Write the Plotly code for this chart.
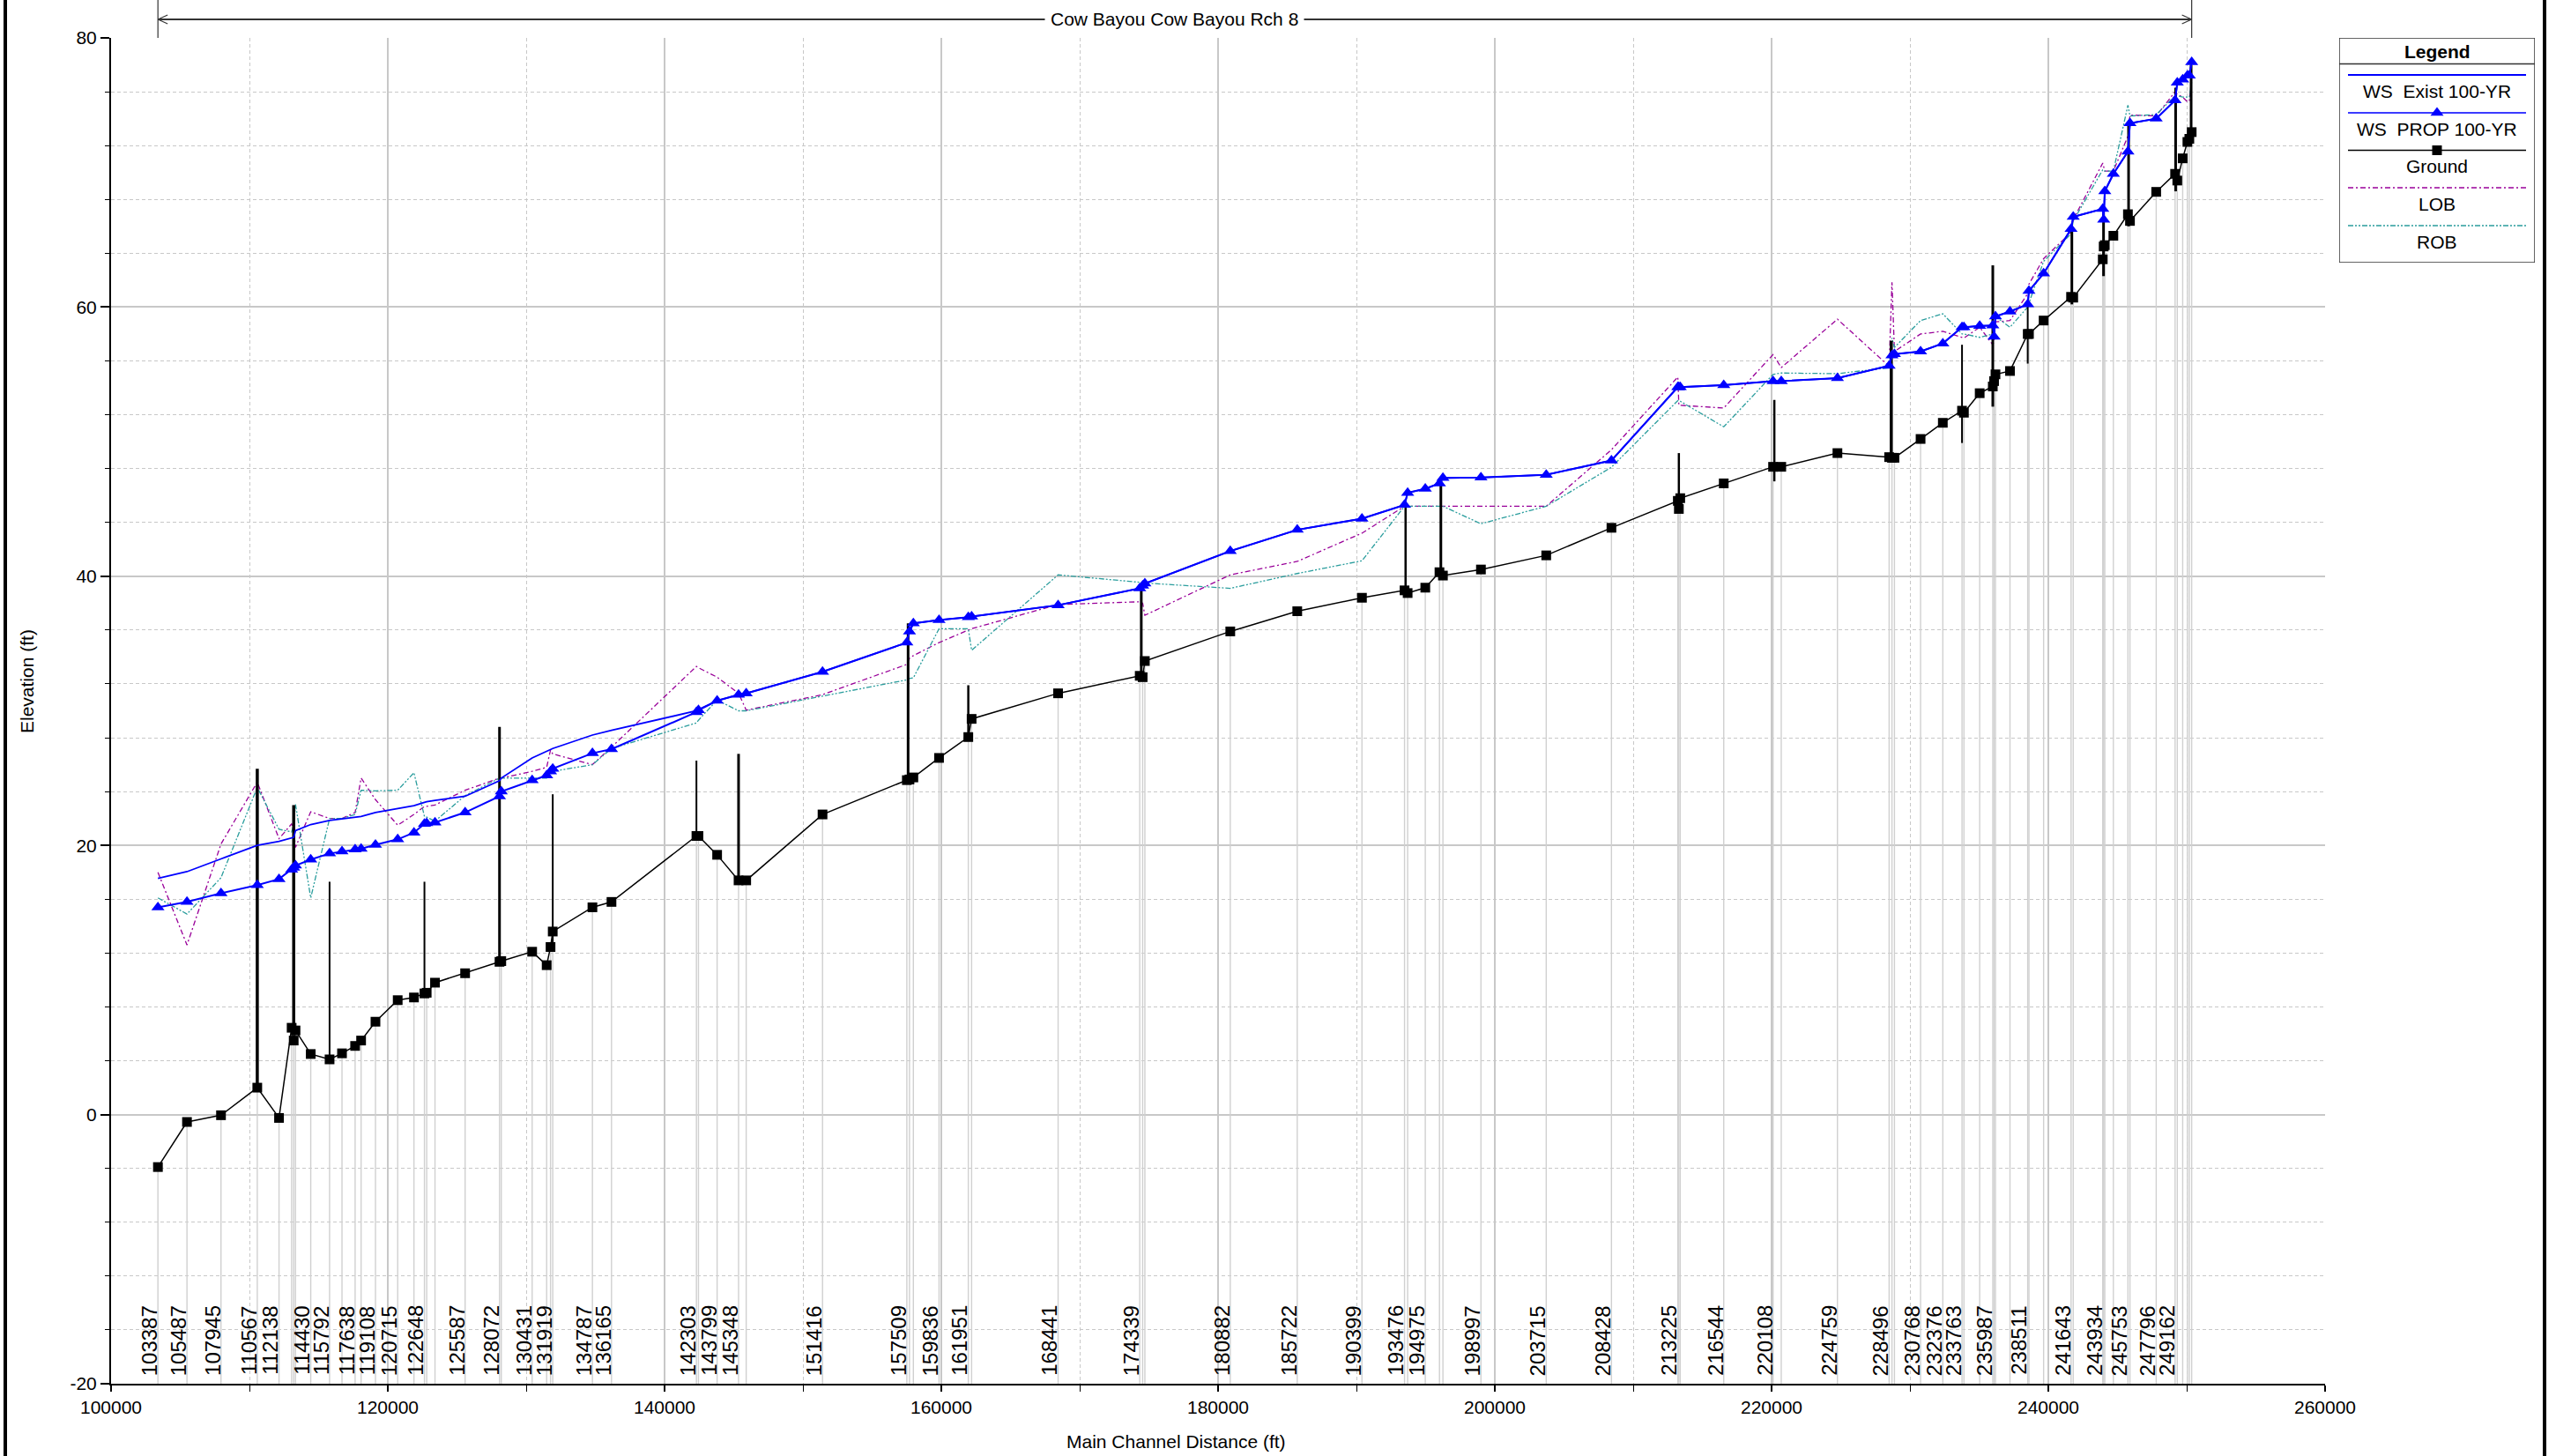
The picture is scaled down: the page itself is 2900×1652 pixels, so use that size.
import plotly.graph_objects as go

# ---------------- data ----------------
stations = [103387, 105487, 107945, 110567, 112138, 113050, 113200, 113330, 114430, 115792,
            116690, 117638, 118070, 119108, 120715, 121890, 122648, 122810, 123410, 125587,
            128072, 128200, 130431, 131480, 131760, 131919, 134787, 136165, 142303, 142450,
            143799, 145348, 145900, 151416, 157509, 157700, 157980, 159836, 161951, 162190,
            168441, 174339, 174550, 174710, 180882, 185722, 190399, 193476, 193700, 194975,
            196000, 196250, 198997, 203715, 208428, 213225, 213300, 213400, 216544, 220108,
            220700, 224759, 228496, 228700, 228880, 230768, 232376, 233763, 233900, 235040,
            235987, 236080, 236180, 237230, 238511, 238600, 239660, 241643, 241800, 243934,
            244000, 244080, 244700, 245753, 245900, 247796, 249162, 249320, 249710, 250050,
            250190, 250360]
ground = [-3.9, -0.55, -0.05, 2.0, -0.25, 6.45, 5.5, 6.25, 4.5, 4.1,
          4.55, 5.1, 5.5, 6.9, 8.5, 8.7, 9.0, 9.05, 9.8, 10.5,
          11.35, 11.4, 12.1, 11.1, 12.45, 13.6, 15.4, 15.8, 20.7, 20.7,
          19.3, 17.4, 17.4, 22.3, 24.85, 24.9, 25.05, 26.5, 28.05, 29.4,
          31.3, 32.6, 32.5, 33.7, 35.9, 37.4, 38.4, 38.95, 38.75, 39.15,
          40.3, 40.05, 40.5, 41.55, 43.6, 45.6, 45.0, 45.8, 46.9, 48.13,
          48.13, 49.15, 48.85, 48.8, 48.8, 50.2, 51.4, 52.3, 52.15, 53.6,
          54.1, 54.5, 55.0, 55.25, 58.0, 58.0, 59.0, 60.76, 60.7, 63.55,
          64.5, 64.6, 65.3, 66.9, 66.4, 68.56, 69.9, 69.4, 71.05, 72.27,
          72.5, 73.0]
ws_exist = [17.55, 18.05, 19.0, 20.0, 20.3, 20.55, 20.6, 21.1, 21.55, 21.85,
            21.95, 22.1, 22.15, 22.45, 22.75, 22.95, 23.2, 23.25, 23.35, 23.65,
            24.8, 25.0, 26.5, 27.0, 27.1, 27.2, 28.2, 28.55, 30.0, 30.1,
            30.75, 31.2, 31.3, 32.9, 35.07, 35.9, 36.5, 36.75, 36.95, 37.0,
            37.85, 39.1, 39.3, 39.46, 41.87, 43.45, 44.28, 45.3, 46.2, 46.5,
            46.9, 47.3, 47.33, 47.54, 48.6, 54.05, 54.05, 54.05, 54.2, 54.5,
            54.5, 54.72, 55.64, 56.4, 56.5, 56.7, 57.3, 58.5, 58.5, 58.6,
            58.63, 57.8, 59.3, 59.67, 60.2, 61.2, 62.5, 65.8, 66.7, 67.3,
            66.5, 68.6, 69.9, 71.55, 73.66, 74.0, 75.36, 76.67, 76.9, 77.2,
            77.2, 78.2]
ws_prop = [15.4, 15.8, 16.45, 17.05, 17.5, 18.2, 18.35, 18.5, 18.95, 19.4,
           19.55, 19.7, 19.75, 20.05, 20.45, 20.95, 21.6, 21.65, 21.7, 22.45,
           23.65, 24.0, 24.85, 25.2, 25.5, 25.7, 26.85, 27.15, 29.9, 30.05,
           30.75, 31.2, 31.3, 32.9, 35.07, 35.9, 36.5, 36.75, 36.95, 37.0,
           37.85, 39.1, 39.3, 39.46, 41.87, 43.45, 44.28, 45.3, 46.2, 46.5,
           46.9, 47.3, 47.33, 47.54, 48.6, 54.05, 54.05, 54.05, 54.2, 54.5,
           54.5, 54.72, 55.64, 56.4, 56.5, 56.7, 57.3, 58.5, 58.5, 58.6,
           58.63, 57.8, 59.3, 59.67, 60.2, 61.2, 62.5, 65.8, 66.7, 67.3,
           66.5, 68.6, 69.9, 71.55, 73.66, 74.0, 75.36, 76.67, 76.9, 77.2,
           77.2, 78.2]
lob = [18.0, 12.6, 20.1, 24.7, 20.5, 21.6, 21.2, 19.85, 22.5, 22.0,
       22.0, 22.45, 25.0, 23.4, 21.5, 22.3, 22.9, 22.9, 23.0, 24.1,
       25.0, 25.0, 25.5, 25.8, 27.1, 26.8, 26.0, 27.3, 33.3, 33.2,
       32.5, 31.3, 30.05, 31.2, 33.45, 33.9, 34.1, 35.07, 36.0, 36.1,
       37.9, 38.1, 38.0, 37.1, 40.1, 41.1, 43.2, 45.2, 45.2, 45.2,
       45.2, 45.2, 45.2, 45.2, 49.4, 54.8, 52.7, 52.7, 52.5, 56.47,
       55.5, 59.1, 55.6, 61.85, 56.7, 58.0, 58.2, 57.7, 57.7, 58.5,
       57.2, 57.5, 58.9, 59.0, 61.0, 61.7, 63.6, 65.55, 66.5, 70.7,
       70.3, 70.1, 70.1, 72.7, 74.27, 74.2, 76.0, 75.8, 75.6, 75.25,
       75.3, 77.0]
rob = [16.1, 14.9, 17.6, 24.3, 21.2, 21.0, 21.5, 23.05, 16.1, 22.0,
       22.0, 22.3, 24.1, 24.05, 24.1, 25.4, 22.15, 22.1, 21.8, 23.7,
       25.0, 25.0, 25.0, 25.0, 25.3, 25.5, 26.0, 27.2, 29.1, 29.3,
       30.8, 30.0, 30.0, 31.1, 32.3, 32.4, 32.45, 36.1, 36.1, 34.5,
       40.1, 39.55, 39.5, 39.5, 39.1, 40.2, 41.15, 45.2, 45.2, 45.2,
       45.2, 45.2, 43.9, 45.2, 48.1, 53.05, 53.0, 53.0, 51.1, 55.0,
       55.1, 55.05, 55.5, 57.7, 57.0, 59.0, 59.5, 58.0, 58.0, 57.75,
       58.0, 58.0, 59.3, 58.5, 60.0, 60.3, 63.4, 65.45, 66.4, 70.2,
       70.2, 70.1, 70.1, 75.0, 74.2, 74.3, 75.7, 75.7, 75.6, 75.6,
       75.6, 76.7]

# structures (bridges / culverts) drawn as vertical black bars
struct_stations = [110567, 113200, 115792, 122648, 128072, 131919, 142303, 145348, 157600,
                   161951, 174450, 193550, 196100, 213300, 220200, 228650, 233763, 235987,
                   238511, 241700, 243990, 245800, 249200, 250320]
struct_bottom = [2.0, 6.2, 4.1, 9.0, 11.4, 12.5, 20.7, 17.4, 24.9,
                 28.05, 32.6, 38.9, 40.1, 45.0, 47.05, 48.8, 49.9, 52.6,
                 55.8, 60.2, 62.3, 66.0, 68.6, 72.5]
struct_top = [25.7, 23.0, 17.3, 17.3, 28.8, 23.8, 26.3, 26.8, 36.5,
              31.9, 39.3, 45.3, 47.2, 49.15, 53.1, 57.5, 57.2, 63.1,
              60.1, 65.8, 67.0, 73.5, 76.3, 78.0]
struct_widths = [3.5, 3.5, 2, 2, 3, 2, 2, 3, 3,
                 2.5, 3, 2.5, 3, 2.5, 2.5, 3.5, 2, 3,
                 2, 3, 3, 3, 3, 3]

label_stations = [103387, 105487, 107945, 110567, 112138, 114430, 115792, 117638, 119108,
                  120715, 122648, 125587, 128072, 130431, 131919, 134787, 136165, 142303,
                  143799, 145348, 151416, 157509, 159836, 161951, 168441, 174339, 180882,
                  185722, 190399, 193476, 194975, 198997, 203715, 208428, 213225, 216544,
                  220108, 224759, 228496, 230768, 232376, 233763, 235987, 238511, 241643,
                  243934, 245753, 247796, 249162]

x_ticks = [100000, 120000, 140000, 160000, 180000, 200000, 220000, 240000, 260000]
x_ticktext = [str(v) for v in x_ticks]
y_ticks = [-20, 0, 20, 40, 60, 80]
y_ticktext = [str(v) for v in y_ticks]

reach_title = "Cow Bayou Cow Bayou Rch 8"
x_title = "Main Channel Distance (ft)"
y_title = "Elevation (ft)"
legend_title = "Legend"
legend_names = ["WS\u00a0 Exist 100-YR", "WS\u00a0 PROP 100-YR", "Ground", "LOB", "ROB"]

# ---------------- styling ----------------
FONT = "Liberation Sans, Arial, sans-serif"
W, H = 2900, 1652
ML, MR, MT, MB = 126, 14, 43, 82
PW = W - ML - MR            # 2760
PH = H - MT - MB            # 1527
X_DOM = (2638 - ML) / PW
BLUE = "#0000ff"
LOB_C = "#990099"
ROB_C = "#2a9d9d"
GRID = "#c8c8c8"

fig = go.Figure()

# cross-section station lines
xs, ys = [], []
for s, g in zip(stations, ground):
    xs += [s, s, None]
    ys += [-20, g, None]
fig.add_trace(go.Scatter(x=xs, y=ys, mode="lines", line=dict(color="#d0d0d0", width=1.4),
                         hoverinfo="skip", showlegend=False))

fig.add_trace(go.Scatter(x=stations, y=lob, mode="lines",
                         line=dict(color=LOB_C, width=1.3, dash="6px,3px,2px,3px"),
                         showlegend=False))
fig.add_trace(go.Scatter(x=stations, y=rob, mode="lines",
                         line=dict(color=ROB_C, width=1.3, dash="6px,2px,2px,2px,2px,2px"),
                         showlegend=False))

# structures
for s, b, t, w in zip(struct_stations, struct_bottom, struct_top, struct_widths):
    fig.add_trace(go.Scatter(x=[s, s], y=[b, t], mode="lines",
                             line=dict(color="black", width=w), showlegend=False,
                             hoverinfo="skip"))

fig.add_trace(go.Scatter(x=stations, y=ground, mode="lines+markers",
                         line=dict(color="black", width=1.5),
                         marker=dict(symbol="square", size=11, color="black"),
                         showlegend=False))
fig.add_trace(go.Scatter(x=stations, y=ws_exist, mode="lines",
                         line=dict(color=BLUE, width=1.8), showlegend=False))
fig.add_trace(go.Scatter(x=stations, y=ws_prop, mode="lines+markers",
                         line=dict(color=BLUE, width=2),
                         marker=dict(symbol="triangle-up", size=13, color=BLUE),
                         showlegend=False))

# ---------------- legend (separate small axes) ----------------
LX0, LX1, LY0, LY1 = 2654, 2876, 43, 298
lw, lh = LX1 - LX0, LY1 - LY0
line_rows = [42, 85, 127.5, 170, 213]
text_rows = [60, 103, 145.5, 188, 231]
leg_styles = [
    dict(color=BLUE, width=1.8, dash="solid"),
    dict(color="#3b3bff", width=2.2, dash="solid"),
    dict(color="black", width=1.5, dash="solid"),
    dict(color=LOB_C, width=1.3, dash="6px,3px,2px,3px"),
    dict(color=ROB_C, width=1.3, dash="6px,2px,2px,2px,2px,2px"),
]
for yy, st in zip(line_rows, leg_styles):
    fig.add_trace(go.Scatter(x=[10, lw - 10], y=[yy, yy], mode="lines", line=st,
                             xaxis="x2", yaxis="y2", showlegend=False, hoverinfo="skip"))
fig.add_trace(go.Scatter(x=[lw / 2], y=[line_rows[1]], mode="markers",
                         marker=dict(symbol="triangle-up", size=13, color=BLUE),
                         xaxis="x2", yaxis="y2", showlegend=False, hoverinfo="skip"))
fig.add_trace(go.Scatter(x=[lw / 2], y=[line_rows[2]], mode="markers",
                         marker=dict(symbol="square", size=11, color="black"),
                         xaxis="x2", yaxis="y2", showlegend=False, hoverinfo="skip"))

annotations = []
for yy, name in zip(text_rows, legend_names):
    annotations.append(dict(x=lw / 2, y=yy, xref="x2", yref="y2", text=name, showarrow=False,
                            xanchor="center", yanchor="middle",
                            font=dict(family=FONT, size=21, color="black")))
annotations.append(dict(x=lw / 2, y=15, xref="x2", yref="y2", text="<b>" + legend_title + "</b>",
                        xanchor="center", yanchor="middle",
                        showarrow=False, font=dict(family=FONT, size=21, color="black")))

shapes = []
shapes.append(dict(type="rect", xref="x2", yref="y2", x0=0, x1=lw, y0=0, y1=lh,
                   line=dict(color="#333333", width=1.5)))
shapes.append(dict(type="line", xref="x2", yref="y2", x0=0, x1=lw, y0=29.5, y1=29.5,
                   line=dict(color="#333333", width=1.5)))

# ---------------- station labels ----------------
for s in label_stations:
    annotations.append(dict(x=s, y=-16.8, xref="x", yref="y", text=str(s), textangle=-90,
                            showarrow=False, xshift=-10, xanchor="center", yanchor="middle",
                            font=dict(family=FONT, size=24, color="black")))

# ---------------- reach header ----------------
reach_start, reach_end = stations[0], stations[-1]
y_hdr = (H - MB - 22) / PH
y_top = (H - MB - 0) / PH
shapes.append(dict(type="line", xref="x", yref="paper", x0=reach_start, x1=reach_end,
                   y0=y_hdr, y1=y_hdr, line=dict(color="#333333", width=2)))
for xa, d in ((reach_start, 1), (reach_end, -1)):
    shapes.append(dict(type="line", xref="x", yref="paper", x0=xa, x1=xa, y0=1.0, y1=y_top,
                       line=dict(color="#333333", width=1.2)))
    for dy in (5, -5):
        shapes.append(dict(type="line", xref="x", yref="paper", xsizemode="pixel", xanchor=xa,
                           x0=0, x1=11 * d, ysizemode="pixel", yanchor=y_hdr, y0=0, y1=dy,
                           line=dict(color="#333333", width=1.2)))
annotations.append(dict(x=(reach_start + reach_end) / 2, y=y_hdr, xref="x", yref="paper",
                        text=reach_title, showarrow=False, bgcolor="white", borderpad=6,
                        xanchor="center", yanchor="middle",
                        font=dict(family=FONT, size=21, color="black")))

# ---------------- axis titles ----------------
annotations.append(dict(x=(1334 - ML) / PW, y=-(1636 - (H - MB)) / PH, xref="paper", yref="paper",
                        text=x_title, showarrow=False, xanchor="center", yanchor="middle",
                        font=dict(family=FONT, size=21, color="black")))
annotations.append(dict(x=(30 - ML) / PW, y=((H - MB) - 773) / PH, xref="paper", yref="paper",
                        text=y_title, textangle=-90, showarrow=False,
                        xanchor="center", yanchor="middle",
                        font=dict(family=FONT, size=21, color="black")))

# ---------------- outer frame lines ----------------
for px in (6, 2887):
    shapes.append(dict(type="line", xref="paper", yref="paper", x0=(px - ML) / PW, x1=(px - ML) / PW,
                       y0=-MB / PH, y1=1 + MT / PH, line=dict(color="black", width=4)))

fig.update_layout(
    width=W, height=H,
    margin=dict(l=ML, r=MR, t=MT, b=MB, autoexpand=False),
    paper_bgcolor="white", plot_bgcolor="white",
    font=dict(family=FONT, size=21, color="black"),
    showlegend=False,
    xaxis=dict(domain=[0, X_DOM], range=[100000, 260000], tickmode="array",
               tickvals=x_ticks, ticktext=x_ticktext, showgrid=True, gridcolor=GRID, gridwidth=1.5,
               ticks="outside", ticklen=7, tickwidth=1.5, tickcolor="black",
               showline=True, linecolor="black", linewidth=2, zeroline=False,
               tickfont=dict(family=FONT, size=21, color="black"),
               minor=dict(tickmode="linear", tick0=100000, dtick=10000, showgrid=True,
                          gridcolor=GRID, gridwidth=1, griddash="4px,3px",
                          ticks="outside", ticklen=7, tickcolor="black", tickwidth=1)),
    yaxis=dict(range=[-20, 80], tickmode="array", tickvals=y_ticks, ticktext=y_ticktext,
               showgrid=True, gridcolor=GRID, gridwidth=1.5,
               ticks="outside", ticklen=10, tickwidth=1.5, tickcolor="black",
               showline=True, linecolor="black", linewidth=2, zeroline=False,
               tickfont=dict(family=FONT, size=21, color="black"),
               minor=dict(tickmode="linear", tick0=0, dtick=4, showgrid=True,
                          gridcolor=GRID, gridwidth=1, griddash="4px,3px",
                          ticks="outside", ticklen=5, tickcolor="black", tickwidth=1)),
    xaxis2=dict(domain=[(LX0 - ML) / PW, (LX1 - ML) / PW], range=[0, lw], visible=False,
                anchor="y2", fixedrange=True),
    yaxis2=dict(domain=[(H - MB - LY1) / PH, (H - MB - LY0) / PH], range=[lh, 0], visible=False,
                anchor="x2", fixedrange=True),
    annotations=annotations,
    shapes=shapes,
)

fig.write_html("out.html", config={"displayModeBar": False},
               post_script="document.body.style.margin='0';")
